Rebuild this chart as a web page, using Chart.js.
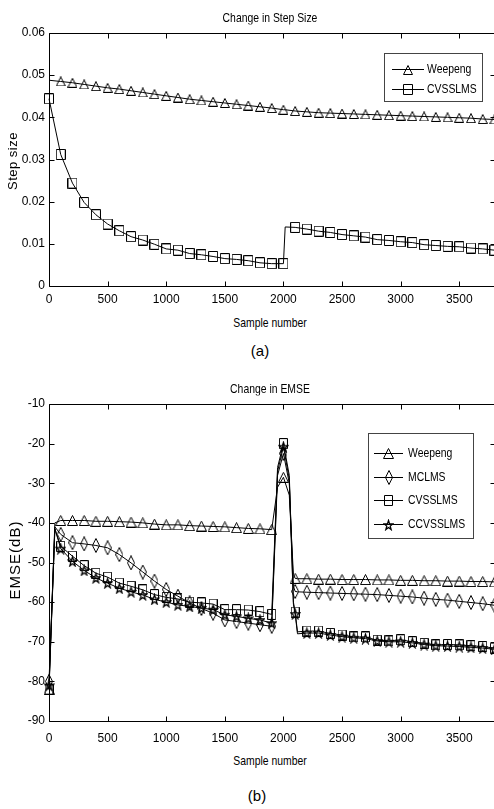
<!DOCTYPE html>
<html>
<head>
<meta charset="utf-8">
<script src="https://cdn.jsdelivr.net/npm/chart.js@4.4.1/dist/chart.umd.min.js"></script>
<style>
  body { margin: 0; background: #fff; width: 494px; height: 809px; overflow: hidden; position: relative;
         font-family: "Liberation Sans", Arial, sans-serif; color: #000; }
  .box { position: absolute; left: 0; width: 494px; overflow: hidden; }
  .t { position: absolute; white-space: nowrap; transform: translate(-50%, -50%) scaleX(0.8); font-size: 13px; }
  .rot { transform: translate(-50%, -50%) rotate(-90deg); font-size: 13px; letter-spacing: 0.5px; }
  .big { font-size: 15px; letter-spacing: 1px; }
  .cap { transform: translate(-50%, -50%); font-size: 15px; }
</style>
</head>
<body>
<div class="box" style="top:0;height:312px"><canvas id="chartA" width="500" height="312"></canvas></div>
<div class="box" style="top:370px;height:380px"><canvas id="chartB" width="500" height="380"></canvas></div>

<div class="t" style="left:270px;top:17px">Change in Step Size</div>
<div class="t rot" style="left:12px;top:161px">Step size</div>
<div class="t" style="left:270px;top:322px">Sample number</div>
<div class="t cap" style="left:260px;top:350px">(a)</div>

<div class="t" style="left:270px;top:388px">Change in EMSE</div>
<div class="t rot big" style="left:14px;top:560px">EMSE(dB)</div>
<div class="t" style="left:270px;top:760px">Sample number</div>
<div class="t cap" style="left:257px;top:795px">(b)</div>

<script>
// ---- data (a) step size ----
var stepSamples = [0, 100, 200, 300, 400, 500, 600, 700, 800, 900, 1000, 1100, 1200, 1300, 1400, 1500, 1600, 1700, 1800, 1900, 2000,
  2015, 2100, 2200, 2300, 2400, 2500, 2600, 2700, 2800, 2900, 3000, 3100, 3200, 3300, 3400, 3500, 3600, 3700, 3800];
var weepengStep = [0.0488, 0.0485, 0.0482, 0.0478, 0.0474, 0.0470, 0.0467, 0.0463, 0.0459, 0.0455, 0.0451, 0.0447, 0.0443, 0.0440,
  0.0437, 0.0434, 0.0431, 0.0428, 0.0425, 0.0422, 0.0418, 0.0418, 0.0415, 0.0413, 0.0411, 0.0410, 0.0409, 0.0408, 0.0407, 0.0406,
  0.0405, 0.0404, 0.0403, 0.0402, 0.0401, 0.0400, 0.0399, 0.0398, 0.0396, 0.0395];
var cvsslmsStep = [0.0444, 0.0312, 0.0244, 0.0198, 0.0169, 0.0147, 0.0131, 0.0117, 0.0109, 0.0099, 0.0088, 0.0085, 0.0077, 0.0074,
  0.0070, 0.0065, 0.0063, 0.0060, 0.0055, 0.0053, 0.0053, 0.0140, 0.0139, 0.0135, 0.0130, 0.0127, 0.0122, 0.0119, 0.0116, 0.0110,
  0.0108, 0.0105, 0.0103, 0.0098, 0.0096, 0.0094, 0.0093, 0.0090, 0.0088, 0.0085];
var stepYTicks = [0, 0.01, 0.02, 0.03, 0.04, 0.05, 0.06];
var stepYLabels = ["0", "0.01", "0.02", "0.03", "0.04", "0.05", "0.06"];

// ---- data (b) EMSE ----
var emseSamples = [0, 50, 100, 200, 300, 400, 500, 600, 700, 800, 900, 1000, 1100, 1200, 1300, 1400, 1500, 1600, 1700, 1800, 1900,
  1950, 2000, 2050, 2085, 2100, 2120, 2200, 2300, 2400, 2500, 2600, 2700, 2800, 2900, 3000, 3100, 3200, 3300, 3400, 3500, 3600, 3700, 3800];
var weepengEmse = [-82, -40, -39.4, -39.4, -39.4, -39.6, -39.6, -39.7, -39.8, -40.0, -40.3, -40.5, -40.5, -40.7, -40.8, -40.9, -41.0,
  -41.2, -41.4, -41.5, -41.7, -31, -28.5, -33, -53, -54.0, -54.1, -54.1, -54.2, -54.2, -54.3, -54.3, -54.3, -54.4, -54.4, -54.5, -54.5,
  -54.6, -54.6, -54.7, -54.7, -54.8, -54.8, -54.9];
var mclmsEmse = [-80, -41, -42.9, -45.0, -45.3, -45.7, -46.3, -48.0, -50.1, -52.4, -54.7, -56.8, -58.5, -60.2, -61.6, -62.8, -64.5,
  -64.9, -65.3, -65.7, -66.1, -28, -22.5, -30, -56, -57.3, -57.4, -57.5, -57.6, -57.7, -57.8, -57.9, -58.0, -58.1, -58.3, -58.5, -58.7,
  -59.0, -59.3, -59.5, -59.8, -60.1, -60.4, -60.8];
var cvsslmsEmse = [-82, -41.5, -45.9, -48.4, -50.8, -52.7, -53.7, -55.2, -56.0, -56.9, -58.1, -58.8, -59.2, -60.0, -60.2, -60.5, -61.9,
  -61.9, -62.0, -62.4, -63.1, -26, -20, -28, -60, -62.5, -67.5, -67.3, -67.3, -67.9, -68.3, -68.8, -68.8, -69.6, -69.8, -69.5, -70.0,
  -70.4, -70.8, -70.7, -70.8, -71.0, -71.2, -71.6];
var ccvsslmsEmse = [-81, -41.5, -46.5, -49.7, -52.0, -53.9, -55.2, -56.5, -57.4, -58.2, -59.3, -60.0, -60.7, -61.1, -61.5, -61.9, -63.2,
  -63.6, -64.1, -64.5, -65.3, -27, -20.8, -29, -60.5, -63, -68, -67.8, -67.8, -68.3, -68.7, -69.0, -69.2, -69.8, -70.0, -70.0, -70.3,
  -70.7, -71.0, -71.1, -71.2, -71.4, -71.6, -71.9];
var emseYTicks = [-90, -80, -70, -60, -50, -40, -30, -20, -10];
var emseYLabels = ["-90", "-80", "-70", "-60", "-50", "-40", "-30", "-20", "-10"];

var sampleTicks = [0, 500, 1000, 1500, 2000, 2500, 3000, 3500];
var sampleLabels = ["0", "500", "1000", "1500", "2000", "2500", "3000", "3500"];

var FONT = "'Liberation Sans', Arial, sans-serif";

// unfilled matlab-like markers
function marker(kind, w, h) {
  var c = document.createElement("canvas");
  c.width = w + 2; c.height = h + 2;
  var g = c.getContext("2d");
  g.strokeStyle = "#000"; g.lineWidth = 1;
  var cx = c.width / 2, cy = c.height / 2;
  g.beginPath();
  if (kind == "tri") {
    g.moveTo(cx, 0.5); g.lineTo(w + 1.5, h + 1.5); g.lineTo(0.5, h + 1.5); g.closePath();
  } else if (kind == "sq") {
    g.rect(0.5, 0.5, w + 1, h + 1);
  } else if (kind == "dia") {
    g.moveTo(cx, 0.5); g.lineTo(w + 1.5, cy); g.lineTo(cx, h + 1.5); g.lineTo(0.5, cy); g.closePath();
  } else if (kind == "star") {
    for (var i = 0; i < 10; i++) {
      var r = i % 2 ? 0.4 : 1;
      var a = -Math.PI / 2 + i * Math.PI / 5;
      var px = cx + Math.cos(a) * r * w / 2, py = cy + Math.sin(a) * r * h / 2 + 0.5;
      if (i == 0) g.moveTo(px, py); else g.lineTo(px, py);
    }
    g.closePath();
    g.lineWidth = 1.3;
  }
  g.stroke();
  return c;
}

function zip(xs, ys) {
  return xs.map(function (x, i) { return { x: x, y: ys[i] }; });
}

function series(label, xs, ys, style, markStart) {
  return {
    label: label,
    data: zip(xs, ys),
    borderColor: "#000",
    borderWidth: 1,
    backgroundColor: "transparent",
    pointStyle: style,
    pointRadius: function (ctx) {
      if (!ctx.raw || ctx.raw.x % 100 !== 0) return 0;
      if (ctx.raw.x === 0 && !markStart) return 0;
      return 5;
    },
    tension: 0,
    clip: false
  };
}

// box + inward ticks on all four sides
var frameTicks = {
  id: "frameTicks",
  afterDatasetsDraw: function (chart) {
    var ctx = chart.ctx, a = chart.chartArea, x = chart.scales.x, y = chart.scales.y;
    var L = Math.round(a.left) + 0.5, R = Math.round(a.right) + 0.5, T = Math.round(a.top) + 0.5, B = Math.round(a.bottom) + 0.5;
    ctx.save();
    ctx.strokeStyle = "#000";
    ctx.lineWidth = 1;
    ctx.beginPath();
    ctx.moveTo(L, T); ctx.lineTo(R, T); ctx.lineTo(R, B); ctx.lineTo(L, B); ctx.closePath();
    x.ticks.forEach(function (t) {
      var px = Math.round(x.getPixelForValue(t.value)) + 0.5;
      ctx.moveTo(px, B); ctx.lineTo(px, B - 5);
      ctx.moveTo(px, T); ctx.lineTo(px, T + 5);
    });
    y.ticks.forEach(function (t) {
      var py = Math.round(y.getPixelForValue(t.value)) + 0.5;
      ctx.moveTo(L, py); ctx.lineTo(L + 5, py);
      ctx.moveTo(R, py); ctx.lineTo(R - 5, py);
    });
    ctx.stroke();
    ctx.restore();
  }
};

// legend in a framed box
var boxLegend = {
  id: "boxLegend",
  afterDraw: function (chart, args, o) {
    var ctx = chart.ctx;
    ctx.save();
    ctx.fillStyle = "#fff";
    ctx.fillRect(o.x, o.y, o.w, o.h);
    ctx.strokeStyle = "#444";
    ctx.lineWidth = 1;
    ctx.strokeRect(o.x + 0.5, o.y + 0.5, o.w, o.h);
    ctx.font = "13px " + FONT;
    ctx.textBaseline = "middle";
    ctx.fillStyle = "#000";
    chart.data.datasets.forEach(function (ds, i) {
      var yy = Math.round(o.y + o.first + i * o.row) + 0.5;
      ctx.strokeStyle = "#000";
      ctx.beginPath();
      ctx.moveTo(o.x + o.l1, yy); ctx.lineTo(o.x + o.l2, yy);
      ctx.stroke();
      var m = ds.pointStyle;
      ctx.drawImage(m, Math.round(o.x + (o.l1 + o.l2) / 2 - m.width / 2), Math.round(yy - m.height / 2));
      ctx.save();
      ctx.translate(o.x + o.tx, yy);
      ctx.scale(0.8, 1);
      ctx.fillText(ds.label, 0, 0);
      ctx.restore();
    });
    ctx.restore();
  }
};

function options(cfg) {
  return {
    responsive: false,
    animation: false,
    events: [],
    layout: { autoPadding: false, padding: { top: cfg.top, right: 5, left: 0, bottom: 0 } },
    plugins: { legend: { display: false }, tooltip: { enabled: false }, title: { display: false }, boxLegend: cfg.legend },
    scales: {
      x: {
        type: "linear", min: 0, max: 3805,
        grid: { display: false, drawTicks: false }, border: { display: false },
        afterBuildTicks: function (s) { s.ticks = sampleTicks.map(function (v) { return { value: v }; }); },
        afterFit: function (s) { s.height = cfg.xh; },
        ticks: { autoSkip: false, maxRotation: 0, padding: cfg.xpad, color: "#000", font: { family: FONT, size: 12 },
          callback: function (v, i) { return sampleLabels[i]; } }
      },
      y: {
        type: "linear", min: cfg.ymin, max: cfg.ymax,
        grid: { display: false, drawTicks: false }, border: { display: false },
        afterBuildTicks: function (s) { s.ticks = cfg.yt.map(function (v) { return { value: v }; }); },
        afterFit: function (s) { s.width = 49; },
        ticks: { autoSkip: false, padding: 4, color: "#000", font: { family: FONT, size: 12 },
          callback: function (v, i) { return cfg.yl[i]; } }
      }
    }
  };
}

var tri = marker("tri", 8, 8), sq = marker("sq", 8, 9), dia = marker("dia", 6, 13), star = marker("star", 9, 10);
var triB = marker("tri", 9, 9), sqB = marker("sq", 7, 9);

new Chart(document.getElementById("chartA").getContext("2d"), {
  type: "line",
  data: {
    datasets: [
      series("Weepeng", stepSamples, weepengStep, tri, false),
      series("CVSSLMS", stepSamples, cvsslmsStep, sq, true)
    ]
  },
  options: options({ top: 33, xh: 26, xpad: 6, ymin: 0, ymax: 0.06, yt: stepYTicks, yl: stepYLabels,
    legend: { x: 384, y: 53, w: 98, h: 48, first: 16, row: 20, l1: 8, l2: 40, tx: 43 } }),
  plugins: [frameTicks, boxLegend]
});

new Chart(document.getElementById("chartB").getContext("2d"), {
  type: "line",
  data: {
    datasets: [
      series("Weepeng", emseSamples, weepengEmse, triB, true),
      series("MCLMS", emseSamples, mclmsEmse, dia, true),
      series("CVSSLMS", emseSamples, cvsslmsEmse, sqB, true),
      series("CCVSSLMS", emseSamples, ccvsslmsEmse, star, true)
    ]
  },
  options: options({ top: 34, xh: 29, xpad: 10, ymin: -90, ymax: -10, yt: emseYTicks, yl: emseYLabels,
    legend: { x: 368, y: 63, w: 105, h: 105, first: 20, row: 23.5, l1: 6, l2: 35, tx: 40 } }),
  plugins: [frameTicks, boxLegend]
});
</script>
</body>
</html>
